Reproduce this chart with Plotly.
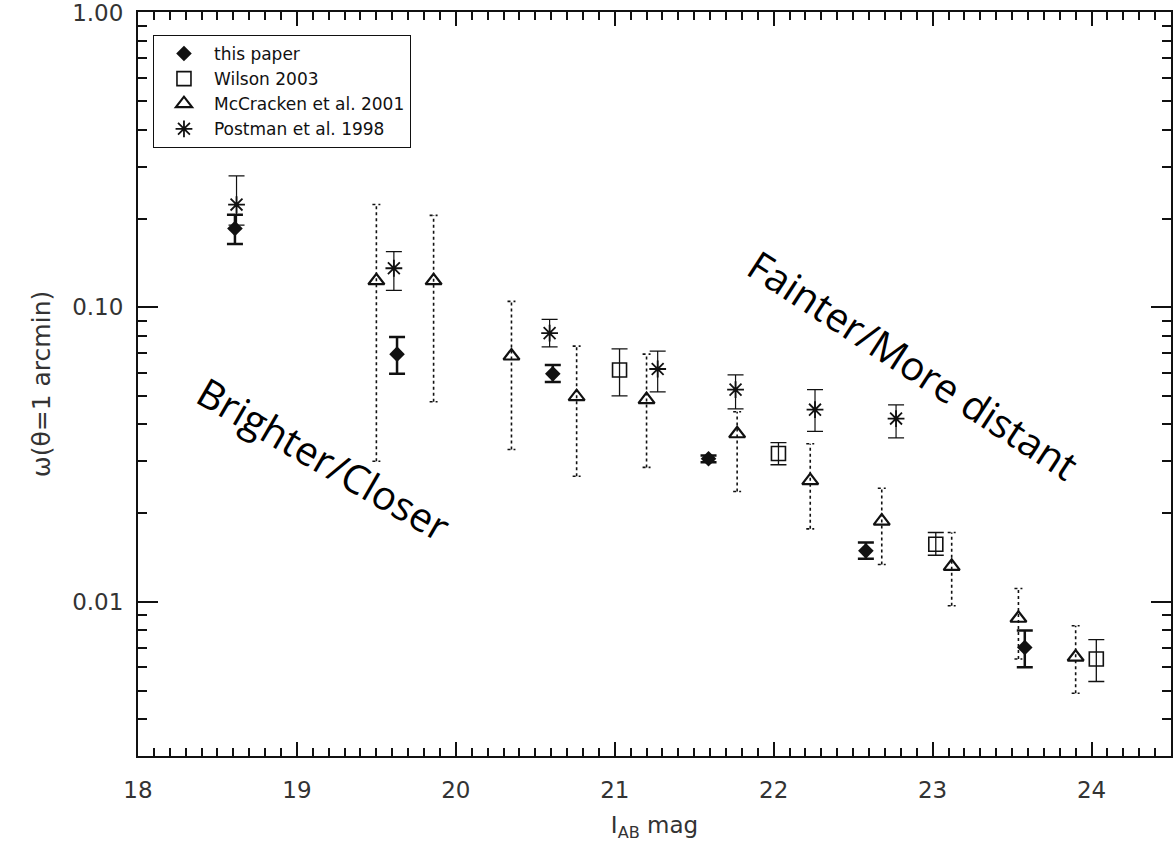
import numpy as np
import plotly.graph_objects as go

# ---------------- data ----------------
paper_x = [18.61, 19.63, 20.61, 21.59, 22.58, 23.58]
paper_y = [0.185, 0.0693, 0.0594, 0.0306, 0.0149, 0.0070]
paper_lo = [0.164, 0.0594, 0.0558, 0.0298, 0.0140, 0.0060]
paper_hi = [0.206, 0.0792, 0.0637, 0.0314, 0.0159, 0.0080]

wilson_x = [21.03, 22.03, 23.02, 24.03]
wilson_y = [0.0612, 0.0319, 0.0157, 0.0064]
wilson_lo = [0.050, 0.0292, 0.0144, 0.00537]
wilson_hi = [0.0722, 0.0347, 0.0172, 0.00745]

mcc_x = [19.50, 19.86, 20.35, 20.76, 21.20, 21.77, 22.23, 22.68, 23.12, 23.54, 23.90]
mcc_y = [0.123, 0.123, 0.0683, 0.0497, 0.0486, 0.0372, 0.0258, 0.0188, 0.0132, 0.0088, 0.0065]
mcc_lo = [0.030, 0.0478, 0.0329, 0.0267, 0.0286, 0.0237, 0.0177, 0.0134, 0.0097, 0.0064, 0.0049]
mcc_hi = [0.223, 0.205, 0.1047, 0.0738, 0.0693, 0.0442, 0.0344, 0.0243, 0.0172, 0.0111, 0.0083]

postman_x = [18.62, 19.61, 20.59, 21.27, 21.76, 22.26, 22.77]
postman_y = [0.223, 0.1356, 0.0817, 0.0617, 0.0525, 0.0449, 0.0419]
postman_lo = [0.19, 0.114, 0.0733, 0.0516, 0.0452, 0.0379, 0.036]
postman_hi = [0.279, 0.1545, 0.091, 0.071, 0.0589, 0.0525, 0.0466]

y_tickvals = [0.01, 0.1, 1.0]
y_ticktext = ["0.01", "0.10", "1.00"]
x_tickvals = [18, 19, 20, 21, 22, 23, 24]

# ---------------- figure ----------------
FONT = "DejaVu Sans"
INK = "#111111"
LABEL = "#333333"


def err(y, lo, hi):
    y, lo, hi = map(np.asarray, (y, lo, hi))
    return dict(type="data", symmetric=False, array=hi - y, arrayminus=y - lo)


fig = go.Figure()

# McCracken dotted error bars (vertical + small caps), built from data arrays
cap = 0.025
xs, ys = [], []
for x, lo, hi in zip(mcc_x, mcc_lo, mcc_hi):
    xs += [x, x, None, x - cap, x + cap, None, x - cap, x + cap, None]
    ys += [lo, hi, None, lo, lo, None, hi, hi, None]
fig.add_trace(go.Scatter(x=xs, y=ys, mode="lines", showlegend=False,
                         line=dict(color=INK, width=1.6, dash="dot"),
                         hoverinfo="skip"))

fig.add_trace(go.Scatter(
    x=paper_x, y=paper_y, mode="markers", name="this paper",
    marker=dict(symbol="diamond", size=12, color=INK),
    error_y=dict(**err(paper_y, paper_lo, paper_hi), color=INK, thickness=2.5, width=8)))

fig.add_trace(go.Scatter(
    x=wilson_x, y=wilson_y, mode="markers", name="Wilson 2003",
    marker=dict(symbol="square-open", size=14, color=INK, line=dict(width=1.6)),
    error_y=dict(**err(wilson_y, wilson_lo, wilson_hi), color=INK, thickness=1.3, width=8)))

fig.add_trace(go.Scatter(
    x=mcc_x, y=mcc_y, mode="markers", name="McCracken et al. 2001",
    marker=dict(symbol="triangle-up-open", size=14, color=INK, line=dict(width=2.2))))

fig.add_trace(go.Scatter(
    x=postman_x, y=postman_y, mode="markers", name="Postman et al. 1998",
    marker=dict(symbol="asterisk-open", size=14, color=INK, line=dict(width=1.8, color=INK)),
    error_y=dict(**err(postman_y, postman_lo, postman_hi), color=INK, thickness=1.2, width=8)))

fig.add_annotation(text="Brighter/Closer", xref="paper", yref="paper",
                   x=(324 - 138) / 1035, y=(756 - 458) / 746, showarrow=False,
                   xanchor="center", yanchor="middle",
                   textangle=30, font=dict(family="Open Sans", size=40, color="black"))
fig.add_annotation(text="Fainter/More distant", xref="paper", yref="paper",
                   x=(915 - 138) / 1035, y=(756 - 363) / 746, showarrow=False,
                   xanchor="center", yanchor="middle",
                   textangle=33, font=dict(family="Open Sans", size=40, color="black"))

axis_common = dict(showline=True, linecolor=INK, linewidth=2, mirror="allticks",
                   ticks="inside", tickcolor=INK, showgrid=False, zeroline=False,
                   ticklabeloverflow="allow",
                   tickfont=dict(family=FONT, size=23, color=LABEL))

fig.update_xaxes(range=[18, 24.5], tickvals=x_tickvals, ticklen=14, tickwidth=1.5,
                 ticklabelstandoff=12,
                 minor=dict(dtick=0.1, ticks="inside", ticklen=8, tickcolor=INK, tickwidth=1.5),
                 title=dict(text="I<sub>AB</sub> mag", font=dict(family=FONT, size=23, color=LABEL),
                            standoff=16),
                 **axis_common)
fig.update_yaxes(type="log", range=[np.log10(0.003), np.log10(1.004)],
                 tickvals=y_tickvals, ticktext=y_ticktext,
                 ticklen=20, tickwidth=1.5, ticklabelstandoff=8,
                 minor=dict(dtick="D1", ticks="inside", ticklen=9, tickcolor=INK, tickwidth=1.5),
                 title=dict(text="ω(θ=1 arcmin)", font=dict(family=FONT, size=25, color=LABEL),
                            standoff=14),
                 **axis_common)

fig.update_layout(
    width=1173, height=842,
    margin=dict(l=138, r=0, t=10, b=86),
    paper_bgcolor="white", plot_bgcolor="white",
    legend=dict(x=(153 - 138) / 1035, y=(756 - 33) / 746, xanchor="left", yanchor="top",
                bgcolor="white", bordercolor=INK, borderwidth=1,
                font=dict(family=FONT, size=17, color="#111111"),
                itemwidth=50, tracegroupgap=0),
    showlegend=True,
)

fig.write_html("out.html")
